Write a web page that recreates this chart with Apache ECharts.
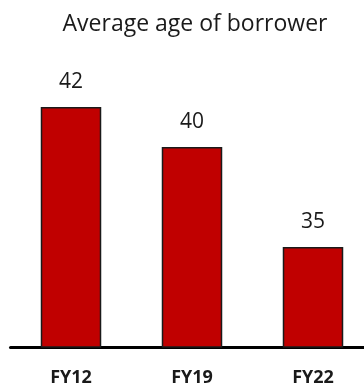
<!DOCTYPE html>
<html><head><meta charset="utf-8">
<script src="https://cdn.jsdelivr.net/npm/echarts@6/dist/echarts.min.js"></script>
<style>html,body{margin:0;padding:0;background:#fff}#c{width:364px;height:387px}</style>
</head><body><div id="c"></div>
<script>
var titleText = "Average age of borrower";
var categories = ["FY12", "FY19", "FY22"];
var values = [42, 40, 35];
var chart = echarts.init(document.getElementById('c'));
chart.setOption({
  animation: false,
  title: {text: titleText, left: 190, top: 8, textAlign: 'center',
    textStyle: {fontFamily: 'Open Sans', fontWeight: 'normal', fontSize: 23, color: '#1a1a1a'}},
  grid: {left: 10.5, width: 363, top: 47, height: 300, outerBoundsMode: 'none', containLabel: false},
  xAxis: {type: 'category', data: categories,
    axisLine: {lineStyle: {color: '#000', width: 3}},
    axisTick: {show: false},
    axisLabel: {margin: 22, fontFamily: 'Open Sans', fontWeight: 'bold', fontSize: 18, color: '#1a1a1a'}},
  yAxis: {type: 'value', min: 30, max: 45, show: false, splitLine: {show: false}},
  series: [{type: 'bar', data: values, barWidth: '50%',
    itemStyle: {color: '#C00000', borderColor: '#1a1a1a', borderWidth: 1.5},
    label: {show: true, position: 'top', distance: 14, fontFamily: 'Open Sans', fontSize: 21, color: '#1a1a1a'}}]
});
</script></body></html>
